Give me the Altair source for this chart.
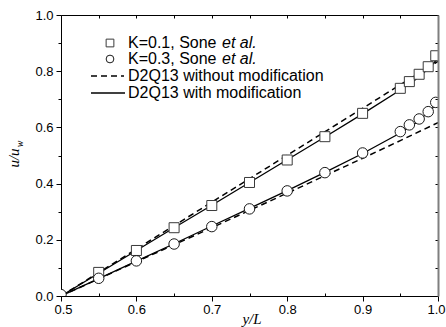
import altair as alt
import pandas as pd

# ---------------- data ----------------
# Sone et al. reference points
x_sq = [0.55, 0.60, 0.65, 0.70, 0.75, 0.80, 0.85, 0.90, 0.95, 0.962, 0.975, 0.987, 0.997]
u_sq = [0.084, 0.162, 0.243, 0.322, 0.404, 0.484, 0.567, 0.650, 0.739, 0.763, 0.789, 0.816, 0.855]
x_ci = [0.50, 0.55, 0.60, 0.65, 0.70, 0.75, 0.80, 0.85, 0.90, 0.95, 0.962, 0.975, 0.987, 0.997]
u_ci = [0.005, 0.063, 0.125, 0.185, 0.247, 0.310, 0.374, 0.439, 0.509, 0.585, 0.609, 0.630, 0.656, 0.689]

# D2Q13 with modification (solid)
x_mod = [0.50, 0.55, 0.60, 0.65, 0.70, 0.75, 0.80, 0.85, 0.90, 0.95, 0.97, 0.99, 1.00]
u_k01_mod = [0.0, 0.081, 0.162, 0.243, 0.323, 0.404, 0.485, 0.566, 0.648, 0.733, 0.770, 0.815, 0.847]
u_k03_mod = [0.0, 0.062, 0.124, 0.186, 0.249, 0.312, 0.375, 0.440, 0.507, 0.580, 0.615, 0.660, 0.690]

# D2Q13 without modification (dashed)
x_nomod = [0.50, 0.60, 0.70, 0.80, 0.90, 0.95, 1.00]
u_k01_nomod = [0.0, 0.167, 0.334, 0.501, 0.668, 0.752, 0.835]
u_k03_nomod = [0.0, 0.122, 0.243, 0.366, 0.490, 0.553, 0.617]

legend_labels = ["K=0.1, Sone", "K=0.3, Sone", "D2Q13 without modification", "D2Q13 with modification"]
legend_italic = "et al."

x_major = [0.5, 0.6, 0.7, 0.8, 0.9, 1.0]
x_minor = [0.55, 0.65, 0.75, 0.85, 0.95]
x_all = [0.5, 0.55, 0.6, 0.65, 0.7, 0.75, 0.8, 0.85, 0.9, 0.95, 1.0]
y_major = [0.0, 0.2, 0.4, 0.6, 0.8, 1.0]
y_minor = [0.1, 0.3, 0.5, 0.7, 0.9]
y_all = [0.0, 0.1, 0.2, 0.3, 0.4, 0.5, 0.6, 0.7, 0.8, 0.9, 1.0]

# ---------------- layout ----------------
W, H = 377, 281
SANS = "Liberation Sans"
SERIF = "Liberation Serif"

xs = alt.Scale(domain=[0.5, 1.0], nice=False, zero=False)
ys = alt.Scale(domain=[0.0, 1.0], nice=False, zero=False)

common = dict(title=None, grid=False, domainColor="black", tickColor="black",
              labelColor="black", labelFont=SANS, labelFontSize=13,
              labelOverlap=False)

ax_x_main = alt.Axis(orient="bottom", values=x_major, format=".1f", tickSize=5,
                     labelPadding=2, domainWidth=1, labelFlush=True, labelFlushOffset=7,
                     **common)
ax_x_minor = alt.Axis(orient="top", offset=-H, values=x_minor, tickSize=3,
                      labels=False, domain=False, labelFlush=False, **common)
ax_x_top = alt.Axis(orient="bottom", offset=-H, values=x_all, tickSize=3,
                    labels=False, domain=True, labelFlush=False, **common)

ax_y_main = alt.Axis(orient="left", values=y_major, format=".1f", tickSize=5,
                     labelPadding=3, labelFlush=False, **common)
ax_y_minor = alt.Axis(orient="left", values=y_minor, tickSize=3, labels=False,
                      domain=False, labelFlush=False, **common)
common_r = dict(common)
common_r["domainColor"] = "#7f7f7f"
ax_y_right = alt.Axis(orient="left", offset=-W, values=y_all, tickSize=3, labels=False,
                      domain=True, domainWidth=2, zindex=1, labelFlush=False, **common_r)

df_sq = pd.DataFrame({"x": x_sq, "u": u_sq})
df_ci = pd.DataFrame({"x": x_ci, "u": u_ci})
df_k01_mod = pd.DataFrame({"x": x_mod, "u": u_k01_mod})
df_k03_mod = pd.DataFrame({"x": x_mod, "u": u_k03_mod})
df_k01_nomod = pd.DataFrame({"x": x_nomod, "u": u_k01_nomod})
df_k03_nomod = pd.DataFrame({"x": x_nomod, "u": u_k03_nomod})

DASH = [6, 4]


def line(df, dash, xaxis, yaxis):
    kw = dict(color="black", strokeWidth=1.3, clip=True)
    if dash:
        kw["strokeDash"] = DASH
        kw["strokeWidth"] = 1.5
    return alt.Chart(df).mark_line(**kw).encode(
        x=alt.X("x:Q", scale=xs, axis=xaxis),
        y=alt.Y("u:Q", scale=ys, axis=yaxis),
    )


l1 = line(df_k01_nomod, True, ax_x_main, ax_y_main)
l2 = line(df_k03_nomod, True, ax_x_minor, ax_y_minor)
l3 = line(df_k01_mod, False, ax_x_top, ax_y_right)
l4 = line(df_k03_mod, False, None, None)

pts_sq = alt.Chart(df_sq).mark_point(shape="square", filled=True, fill="white", stroke="#3a3a3a",
                                     strokeWidth=1, size=100, opacity=1, clip=True).encode(
    x=alt.X("x:Q", scale=xs, axis=None), y=alt.Y("u:Q", scale=ys, axis=None))
pts_ci = alt.Chart(df_ci).mark_point(shape="circle", filled=True, fill="white", stroke="#1a1a1a",
                                     strokeWidth=1, size=110, opacity=1, clip=True).encode(
    x=alt.X("x:Q", scale=xs, axis=None), y=alt.Y("u:Q", scale=ys, axis=None))

one = pd.DataFrame({"a": [0]})

# axis titles
xt = alt.Chart(pd.DataFrame({"t": ["y/L"]})).mark_text(
    font=SERIF, fontStyle="italic", fontSize=15, align="center", baseline="middle", color="black"
).encode(x=alt.value(191), y=alt.value(304), text="t:N")
yt = alt.Chart(pd.DataFrame({"t": ["u/u"]})).mark_text(
    font=SERIF, fontStyle="italic", fontSize=15, align="center", baseline="middle", angle=270, color="black"
).encode(x=alt.value(-47), y=alt.value(143), text="t:N")
yt_sub = alt.Chart(pd.DataFrame({"t": ["w"]})).mark_text(
    font=SERIF, fontStyle="italic", fontSize=10, align="center", baseline="middle", angle=270, color="black"
).encode(x=alt.value(-41), y=alt.value(129), text="t:N")

# legend
LX_TXT = 67
rows = [28, 44, 61, 78]
leg_sq = alt.Chart(one).mark_point(shape="square", filled=True, fill="white", stroke="#3a3a3a",
                                   strokeWidth=1, size=60, opacity=1).encode(
    x=alt.value(49), y=alt.value(rows[0]))
leg_ci = alt.Chart(one).mark_point(shape="circle", filled=True, fill="white", stroke="#1a1a1a",
                                   strokeWidth=1, size=60, opacity=1).encode(
    x=alt.value(49), y=alt.value(rows[1]))
leg_dash = alt.Chart(one).mark_rule(color="black", strokeWidth=1.5, strokeDash=DASH).encode(
    x=alt.value(30), x2=alt.value(63), y=alt.value(rows[2]))
leg_solid = alt.Chart(one).mark_rule(color="black", strokeWidth=1.3).encode(
    x=alt.value(30), x2=alt.value(64), y=alt.value(rows[3]))

leg_txt = []
for lab, r in zip(legend_labels, rows):
    leg_txt.append(alt.Chart(pd.DataFrame({"t": [lab]})).mark_text(
        font=SANS, fontSize=16, align="left", baseline="middle", color="black"
    ).encode(x=alt.value(LX_TXT), y=alt.value(r), text="t:N"))
for r in rows[:2]:
    leg_txt.append(alt.Chart(pd.DataFrame({"t": [legend_italic]})).mark_text(
        font=SANS, fontSize=16, fontStyle="italic", align="left", baseline="middle", color="black"
    ).encode(x=alt.value(LX_TXT + 94), y=alt.value(r), text="t:N"))

chart = alt.layer(
    l1, l2, l3, l4, pts_sq, pts_ci, xt, yt, yt_sub,
    leg_sq, leg_ci, leg_dash, leg_solid, *leg_txt
).resolve_axis(x="independent", y="independent").properties(
    width=W, height=H,
    autosize=alt.AutoSizeParams(type="none"),
    padding={"left": 61, "top": 15, "right": 8, "bottom": 31},
    background="white",
).configure_view(stroke=None)

chart.save("out.html", embed_options={"renderer": "svg", "actions": False})
